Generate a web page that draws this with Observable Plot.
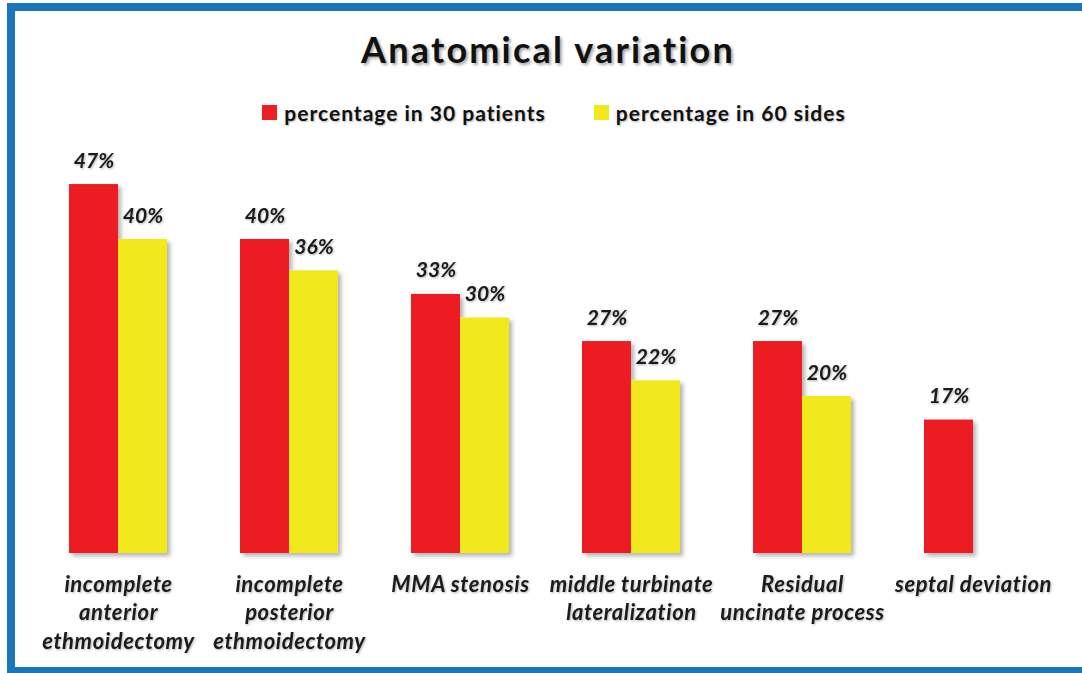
<!DOCTYPE html>
<html>
<head>
<meta charset="utf-8">
<script src="https://cdn.jsdelivr.net/npm/d3@7"></script>
<script src="https://cdn.jsdelivr.net/npm/@observablehq/plot@0.6"></script>
<style>
  html, body { margin: 0; padding: 0; width: 1082px; height: 673px; overflow: hidden; background: #fff; }
  #frame { position: absolute; left: 7px; top: 3px; width: 1110px; height: 672px; border: 8px solid #1B75BB; box-sizing: border-box; }
  #title { position: absolute; left: 0; width: 1096px; top: 31px; text-align: center; font-family: Lato, sans-serif; font-weight: bold; font-size: 36px; line-height: 36px; letter-spacing: 2.2px; color: #111; text-shadow: 2px 2px 3px rgba(0,0,0,0.35); }
  #legend { position: absolute; left: 0; width: 1108px; top: 102px; display: flex; justify-content: center; gap: 48px; font-family: Lato, sans-serif; font-weight: bold; font-size: 21px; line-height: 21px; letter-spacing: 1px; color: #111; text-shadow: 1px 1px 2px rgba(0,0,0,0.3); }
  #legend .item { display: flex; align-items: center; gap: 7px; }
  #legend .sw { width: 15px; height: 15px; display: inline-block; }
  #chart { position: absolute; left: 0; top: 130px; }
</style>
</head>
<body>
<div id="frame"></div>
<div id="title"></div>
<div id="legend"></div>
<div id="chart"></div>
<script>
const titleText = "Anatomical variation";
const categories = ["incomplete anterior ethmoidectomy", "incomplete posterior ethmoidectomy", "MMA stenosis", "middle turbinate lateralization", "Residual uncinate process", "septal deviation"];
const tickLabels = ["incomplete\nanterior\nethmoidectomy", "incomplete\nposterior\nethmoidectomy", "MMA stenosis", "middle turbinate\nlateralization", "Residual\nuncinate process", "septal deviation"];
const seriesNames = ["percentage in 30 patients", "percentage in 60 sides"];
const seriesColors = ["#ED1F24", "#F1E91B"];
const patientsPct = [47, 40, 33, 27, 27, 17];
const sidesPct = [40, 36, 30, 22, 20, null];

const seriesValues = [patientsPct, sidesPct];
const rows = [];
categories.forEach((c, i) => {
  seriesValues.forEach((vals, s) => {
    if (vals[i] != null) rows.push({category: c, series: seriesNames[s], value: vals[i]});
  });
});
const labelOf = new Map(categories.map((c, i) => [c, tickLabels[i]]));

document.getElementById("title").textContent = titleText;
const legend = document.getElementById("legend");
seriesNames.forEach((n, i) => {
  const item = document.createElement("span");
  item.className = "item";
  const sw = document.createElement("span");
  sw.className = "sw";
  sw.style.background = seriesColors[i];
  const t = document.createElement("span");
  t.textContent = n;
  item.appendChild(sw);
  item.appendChild(t);
  legend.appendChild(item);
});

const chart = Plot.plot({
  width: 1082,
  height: 540,
  marginTop: 30.5,
  marginBottom: 117,
  marginLeft: 32.5,
  marginRight: 23.5,
  style: {fontFamily: "Lato, sans-serif", fontWeight: "bold", fontStyle: "italic", color: "#111", background: "transparent", overflow: "visible"},
  fx: {domain: categories, padding: 0, round: false, label: null},
  x: {domain: seriesNames, paddingInner: 0, paddingOuter: 0.745, round: false, axis: null},
  y: {domain: [0, 50], axis: null},
  color: {domain: seriesNames, range: seriesColors},
  marks: [
    Plot.barY(rows, {fx: "category", x: "series", y: "value", fill: "series"}),
    Plot.text(rows, {fx: "category", x: "series", y: "value", text: d => d.value + "%", dy: -17, lineAnchor: "bottom", fontSize: 21, fill: "#1a1a1a"}),
    Plot.axisFx({anchor: "bottom", tickSize: 0, tickPadding: 18, tickFormat: d => labelOf.get(d), fontSize: 22, lineHeight: 1.295, label: null, fill: "#1a1a1a"})
  ]
});

const svg = d3.select(chart);
const defs = svg.insert("defs", ":first-child");
const f = defs.append("filter").attr("id", "shadow").attr("x", "-20%").attr("y", "-20%").attr("width", "140%").attr("height", "140%");
f.append("feDropShadow").attr("dx", 3).attr("dy", 3).attr("stdDeviation", 2).attr("flood-color", "#000").attr("flood-opacity", 0.3);
const f2 = defs.append("filter").attr("id", "tshadow").attr("x", "-20%").attr("y", "-20%").attr("width", "140%").attr("height", "140%");
f2.append("feDropShadow").attr("dx", 1).attr("dy", 1).attr("stdDeviation", 1).attr("flood-color", "#000").attr("flood-opacity", 0.3);
svg.selectAll('g[aria-label="bar"]').attr("filter", "url(#shadow)");
svg.selectAll('g[aria-label="text"]').attr("filter", "url(#tshadow)");
svg.selectAll('g[aria-label="fx-axis tick label"]').attr("filter", "url(#tshadow)").style("letter-spacing", "0.6px");

document.getElementById("chart").appendChild(chart);
</script>
</body>
</html>
